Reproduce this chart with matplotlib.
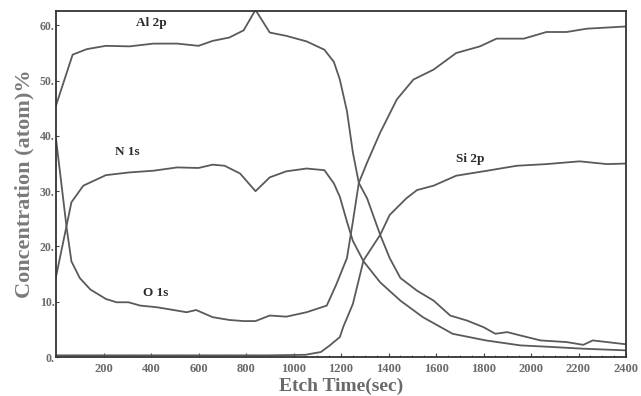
import numpy as np
import matplotlib.pyplot as plt

# etch time (s) and atomic concentration (%)
al_t = [0, 70, 130, 210, 310, 410, 510, 600, 660, 730, 790, 840, 900, 970, 1055, 1130,
        1170, 1195, 1225, 1250, 1275, 1310, 1365, 1405, 1450, 1520, 1590, 1660, 1730,
        1800, 1850, 1900, 1955, 2040, 2150, 2220, 2260, 2320, 2400]
al_c = [45.5, 54.7, 55.7, 56.3, 56.2, 56.7, 56.7, 56.3, 57.2, 57.8, 59.1, 62.8, 58.7, 58.1,
        57.1, 55.6, 53.4, 50.2, 44.5, 37.0, 31.5, 28.7, 22.1, 17.9, 14.3, 12.0, 10.2, 7.5,
        6.6, 5.4, 4.2, 4.5, 3.9, 3.0, 2.7, 2.2, 3.0, 2.7, 2.3]

n_t = [0, 65, 115, 210, 310, 410, 510, 600, 660, 710, 775, 840, 900, 970, 1055, 1130,
       1170, 1195, 1225, 1250, 1295, 1365, 1450, 1545, 1670, 1810, 1955, 2095, 2220, 2400]
n_c = [14.5, 28.0, 31.0, 32.9, 33.4, 33.7, 34.3, 34.2, 34.8, 34.6, 33.2, 30.0, 32.5, 33.6,
       34.1, 33.8, 31.4, 29.0, 24.5, 21.0, 17.3, 13.5, 10.2, 7.2, 4.2, 3.0, 2.1, 1.8, 1.5, 1.2]

o_t = [0, 45, 65, 100, 145, 210, 255, 305, 355, 425, 495, 550, 590, 660, 730, 790, 840,
       900, 970, 1055, 1140, 1180, 1225, 1250, 1275, 1310, 1365, 1435, 1505, 1590, 1685,
       1785, 1855, 1970, 2065, 2150, 2235, 2400]
o_c = [39.5, 23.3, 17.3, 14.3, 12.2, 10.5, 9.9, 9.9, 9.3, 9.0, 8.5, 8.1, 8.5, 7.2, 6.7,
       6.5, 6.5, 7.5, 7.3, 8.1, 9.3, 13.1, 17.9, 24.5, 31.5, 35.2, 40.6, 46.6, 50.2, 52.0,
       55.0, 56.2, 57.6, 57.6, 58.8, 58.8, 59.4, 59.8]

si_t = [0, 300, 600, 900, 1050, 1115, 1150, 1195, 1210, 1250, 1295, 1365, 1405, 1475,
        1520, 1590, 1685, 1815, 1940, 2065, 2205, 2320, 2400]
si_c = [0.3, 0.3, 0.3, 0.3, 0.4, 0.9, 2.0, 3.6, 5.5, 9.6, 17.5, 22.1, 25.7, 28.7, 30.2,
        31.0, 32.8, 33.7, 34.6, 34.9, 35.4, 34.9, 35.0]

labels = ['Al 2p', 'N 1s', 'O 1s', 'Si 2p']
label_pos = [(400, 60.4), (300, 37.0), (420, 11.6), (1745, 35.8)]

x_ticks = [200, 400, 600, 800, 1000, 1200, 1400, 1600, 1800, 2000, 2200, 2400]
y_ticks = [0, 10, 20, 30, 40, 50, 60]

serif = ['Liberation Serif', 'DejaVu Serif']
line_col = '#5a5a5a'
txt_col = '#6a6a6a'

fig = plt.figure(figsize=(6.41, 3.96), dpi=100)
ax = fig.add_axes([56 / 641, 1 - 357 / 396, 570 / 641, 346 / 396])

for t, c in [(al_t, al_c), (n_t, n_c), (o_t, o_c), (si_t, si_c)]:
    ax.plot(t, c, color=line_col, linewidth=1.3)

for lab, (x, y) in zip(labels, label_pos):
    ax.text(x, y, lab, family=serif, fontweight='bold', fontsize=9.5,
            color='#2a2a2a', ha='center', va='center')

ax.set_xlim(0, 2400)
ax.set_ylim(0, 62.6)
ax.set_xticks(x_ticks)
ax.set_xticks(np.arange(50, 2400, 50), minor=True)
ax.set_yticks(y_ticks)
ax.set_yticklabels([f'{v}.' for v in y_ticks])

for s in ax.spines.values():
    s.set_color('#333333')
    s.set_linewidth(1.3)

ax.tick_params(axis='x', direction='in', length=3, width=0.8, colors='#444444',
               labelcolor=txt_col, labelsize=9, pad=4)
ax.tick_params(axis='x', which='minor', direction='in', length=1.5, width=0.6,
               colors='#666666')
ax.tick_params(axis='y', direction='in', length=2, width=0.8, colors='#444444',
               labelcolor=txt_col, labelsize=8.5, pad=1)
for lbl in ax.get_xticklabels() + ax.get_yticklabels():
    lbl.set_family(serif)
    lbl.set_fontweight('bold')

ax.set_xlabel('Etch Time(sec)', family=serif, fontweight='bold', fontsize=14,
              color=txt_col, labelpad=2)
ax.set_ylabel('Concentration (atom)%', family=serif, fontweight='bold', fontsize=16,
              color='#7a7a7a', labelpad=4)

fig.savefig('out.png', dpi=100)
